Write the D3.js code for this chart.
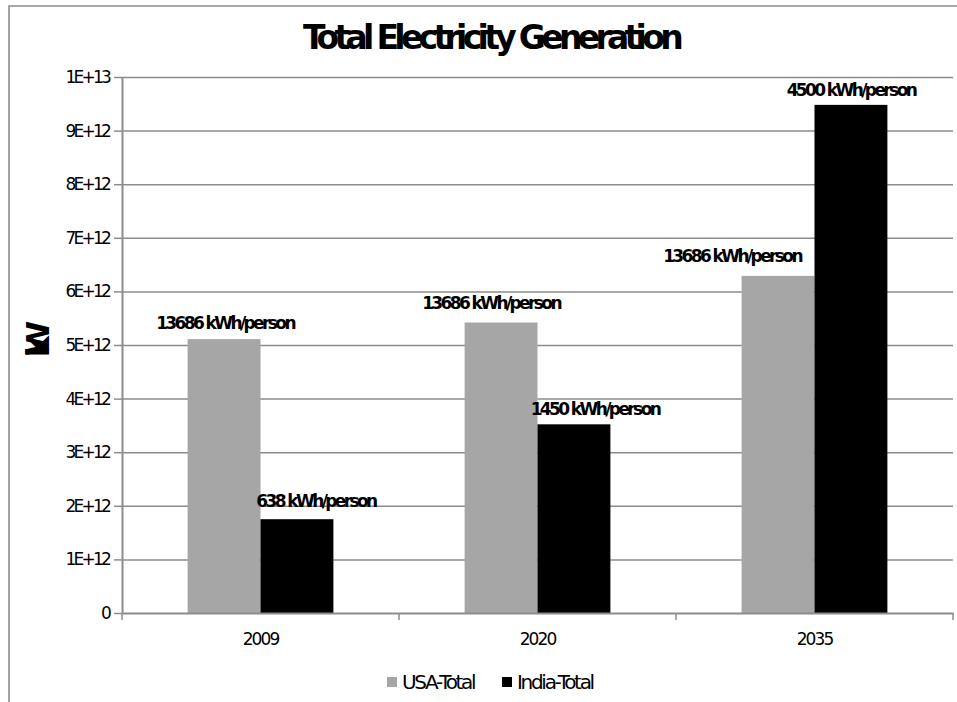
<!DOCTYPE html>
<html>
<head>
<meta charset="utf-8">
<script src="https://cdn.jsdelivr.net/npm/d3@7"></script>
<style>
  body { margin: 0; background: #fff; }
  svg { display: block; font-family: "DejaVu Sans", sans-serif; }
</style>
</head>
<body>
<svg id="chart" width="957" height="702"></svg>
<script>
const years = ['2009', '2020', '2035'];
const seriesNames = ['USA-Total', 'India-Total'];
const usaTotal = [5.11e12, 5.42e12, 6.29e12];
const indiaTotal = [1.75e12, 3.52e12, 9.48e12];
const usaLabels = ['13686 kWh/person', '13686 kWh/person', '13686 kWh/person'];
const indiaLabels = ['638 kWh/person', '1450 kWh/person', '4500 kWh/person'];
const yTickValues = [0, 1e12, 2e12, 3e12, 4e12, 5e12, 6e12, 7e12, 8e12, 9e12, 1e13];

const cs = {
  palette: {
    'USA-Total': '#a6a6a6',
    'India-Total': '#000000',
    line: '#8c8c8c',
    text: '#000',
  },
  plot: { left: 122, right: 953, top: 77, bottom: 613 },
  // hand-placed label nudges, same order as years
  nudge: {
    'USA-Total': { dx: [1, -10, -46], gap: [10, 13, 14] },
    'India-Total': { dx: [19, 21, 0], gap: [12, 9, 9] },
  },
};

const svg = d3.select('#chart');

/**
 * builds the table the bars are drawn from
 */
const rows = years.map((yr, i) => ({
  year: yr,
  values: [
    { key: 'USA-Total', value: usaTotal[i], label: usaLabels[i], i },
    { key: 'India-Total', value: indiaTotal[i], label: indiaLabels[i], i },
  ],
}));

const x = d3.scaleBand().domain(years).range([cs.plot.left, cs.plot.right]).padding(0);
const xs = d3.scaleBand().domain(seriesNames).range([0, x.bandwidth()])
  .paddingInner(0).paddingOuter(0.9);
const y = d3.scaleLinear().domain([0, 1e13]).range([cs.plot.bottom, cs.plot.top]);

const fmt = d => (d === 0 ? '0' : d3.format('.0e')(d).toUpperCase());

// outer frame (only left and top edges show)
svg.append('path')
  .attr('d', 'M9,702 V6 H957')
  .attr('fill', 'none')
  .attr('stroke', cs.palette.line)
  .attr('stroke-width', 1.6);

// title
svg.append('text')
  .attr('x', 491)
  .attr('y', 49)
  .attr('text-anchor', 'middle')
  .style('font-size', '33px')
  .style('font-weight', 'bold')
  .style('letter-spacing', '-4.7px')
  .text('Total Electricity Generation');

// gridlines
svg.append('g')
  .attr('class', 'grid')
  .attr('transform', `translate(${cs.plot.left},0)`)
  .call(d3.axisLeft(y).tickValues(yTickValues.filter(v => v > 0))
    .tickSize(-(cs.plot.right - cs.plot.left)).tickFormat(''))
  .call(g => g.select('.domain').remove())
  .call(g => g.selectAll('line').attr('stroke', cs.palette.line).attr('stroke-width', 1.5));

// y axis
svg.append('g')
  .attr('class', 'axis')
  .attr('transform', `translate(${cs.plot.left},0)`)
  .call(d3.axisLeft(y).tickValues(yTickValues).tickFormat(fmt).tickSize(8).tickSizeOuter(0))
  .call(g => g.select('.domain').attr('stroke', cs.palette.line).attr('stroke-width', 2))
  .call(g => g.selectAll('line').attr('stroke', cs.palette.line).attr('stroke-width', 1.5))
  .call(g => g.selectAll('text')
    .attr('x', -13)
    .attr('fill', cs.palette.text)
    .style('font-family', '"DejaVu Sans", sans-serif')
    .style('font-size', '17px')
    .style('letter-spacing', '-2.8px'));

// y axis title
svg.append('text')
  .attr('transform', 'translate(49,349) rotate(-90)')
  .attr('text-anchor', 'middle')
  .style('font-size', '32px')
  .style('font-weight', 'bold')
  .style('letter-spacing', '-20px')
  .text('kW');

// bars
const groups = svg.append('g').selectAll('g')
  .data(rows)
  .join('g')
  .attr('transform', d => `translate(${x(d.year)},0)`);

groups.selectAll('rect')
  .data(d => d.values)
  .join('rect')
  .attr('x', d => xs(d.key))
  .attr('width', xs.bandwidth())
  .attr('y', d => y(d.value))
  .attr('height', d => y(0) - y(d.value))
  .attr('fill', d => cs.palette[d.key]);

// data labels
groups.selectAll('text')
  .data(d => d.values)
  .join('text')
  .attr('x', d => xs(d.key) + xs.bandwidth() / 2 + cs.nudge[d.key].dx[d.i])
  .attr('y', d => y(d.value) - cs.nudge[d.key].gap[d.i])
  .attr('text-anchor', 'middle')
  .style('font-size', '17px')
  .style('font-weight', 'bold')
  .style('letter-spacing', '-2.6px')
  .text(d => d.label);

// x axis: labels at band centres, ticks at band edges
const xAxis = svg.append('g')
  .attr('class', 'axis')
  .attr('transform', `translate(0,${cs.plot.bottom})`)
  .call(d3.axisBottom(x).tickSize(0).tickSizeOuter(0))
  .call(g => g.select('.domain').attr('stroke', cs.palette.line).attr('stroke-width', 2))
  .call(g => g.selectAll('text')
    .attr('y', 32)
    .attr('dy', null)
    .attr('fill', cs.palette.text)
    .style('font-family', '"DejaVu Sans", sans-serif')
    .style('font-size', '17px')
    .style('letter-spacing', '-1.9px'));

xAxis.selectAll('line.edge')
  .data(years.map(c => x(c)).concat(x.range()[1]))
  .join('line')
  .attr('class', 'edge')
  .attr('x1', d => d).attr('x2', d => d)
  .attr('y1', 0).attr('y2', 7)
  .attr('stroke', cs.palette.line)
  .attr('stroke-width', 1.5);

// legend
const legendX = [387, 502];
const legend = svg.append('g').attr('class', 'legend');
seriesNames.forEach((name, i) => {
  legend.append('rect')
    .attr('x', legendX[i])
    .attr('y', 677)
    .attr('width', 10)
    .attr('height', 10)
    .attr('fill', cs.palette[name]);
  legend.append('text')
    .attr('x', legendX[i] + 15)
    .attr('y', 689)
    .style('font-size', '20px')
    .style('letter-spacing', '-2.3px')
    .text(name);
});
</script>
</body>
</html>
